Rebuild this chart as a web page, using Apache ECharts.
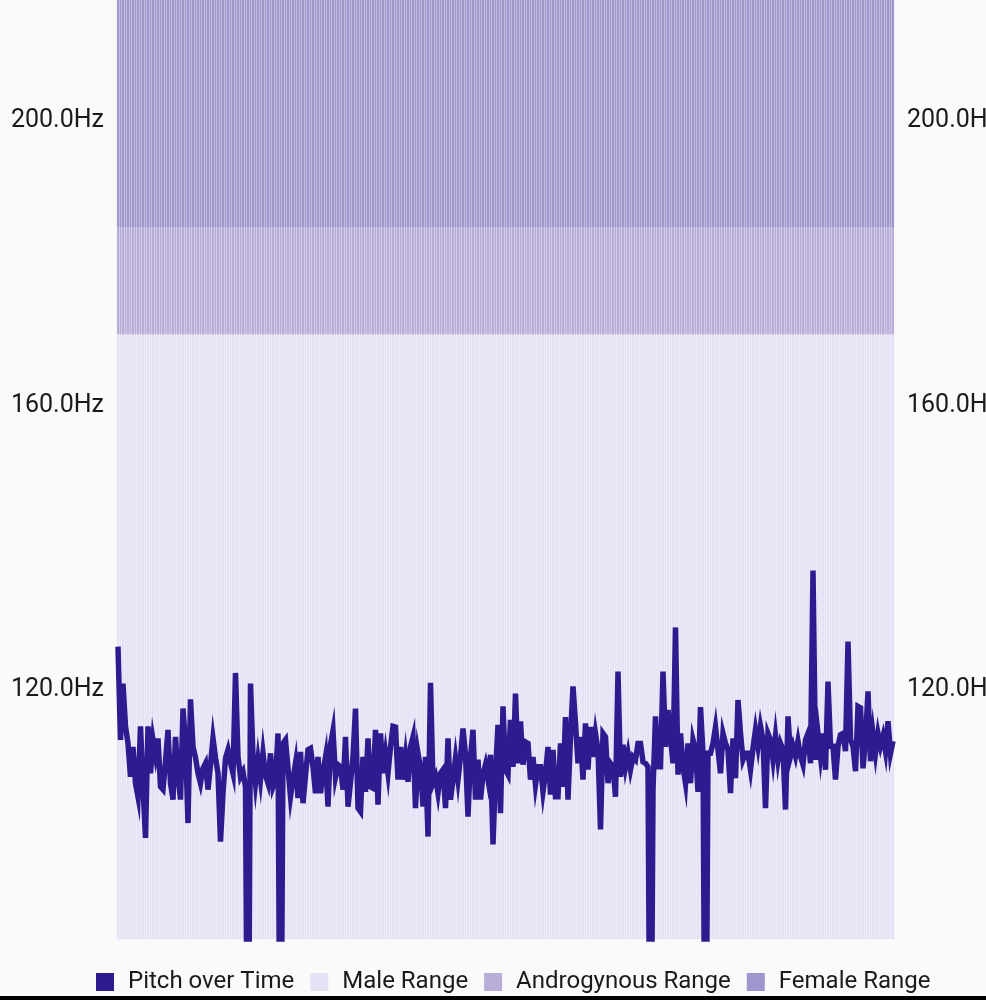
<!DOCTYPE html>
<html>
<head>
<meta charset="utf-8">
<title>Pitch over Time</title>
<script src="https://cdn.jsdelivr.net/npm/echarts@6/dist/echarts.min.js"></script>
<style>
  html, body { margin: 0; padding: 0; background: #fafafa; }
  #chart { width: 986px; height: 1000px; }
</style>
</head>
<body>
<div id="chart"></div>
<script>
// pitch samples in Hz (values below the axis are dropouts)
const pitch = [
  126.1, 113.0, 120.9, 114.9, 112.5, 107.8, 112.0, 106.9, 105.0, 114.9,
  106.4, 99.2, 114.9, 108.3, 113.0, 110.8, 113.2, 106.4, 106.0, 110.0,
  114.4, 106.9, 104.6, 113.4, 108.0, 104.6, 117.4, 112.5, 101.3, 118.7,
  112.0, 110.5, 108.3, 106.9, 109.0, 109.7, 106.0, 109.5, 113.2, 110.5,
  108.3, 98.7, 105.5, 110.4, 111.6, 109.8, 108.3, 122.4, 110.6, 107.8,
  108.5, 106.4, 50, 120.9, 110.6, 106.9, 110.2, 107.4, 111.1, 108.0,
  106.9, 111.1, 106.4, 107.4, 113.9, 50,
  112.5, 113.0, 109.0, 105.0, 107.5, 109.7, 104.8, 111.3, 104.1, 108.0,
  111.6, 111.8, 109.2, 105.5, 110.6, 105.5, 108.5, 110.6, 103.6, 112.3,
  114.3, 107.8, 109.5, 109.2, 106.0, 113.4, 103.6, 107.0, 110.6, 117.4,
  103.4, 102.9, 110.6, 105.7, 113.2, 106.4, 106.2, 114.4, 103.9, 113.9,
  108.3, 111.1, 108.3, 112.0, 114.9, 114.8, 107.4, 112.0, 107.4, 110.6,
  107.1, 112.0, 113.4, 103.4, 111.1, 109.0,
  103.6, 110.6, 99.4, 121.0, 106.9, 107.8, 105.5, 108.3, 108.8, 103.4,
  113.2, 104.6, 107.4, 110.4, 107.4, 110.6, 114.6, 110.9, 102.2, 110.6,
  114.4, 104.6, 110.2, 104.6, 108.1, 109.5, 107.4, 110.9, 98.3, 108.3,
  115.1, 102.7, 117.7, 108.8, 108.1, 115.8, 109.2, 119.5, 109.7, 115.6,
  109.5, 112.7, 112.5, 107.4, 110.6, 106.7, 109.2, 109.2, 105.7, 108.3,
  112.0, 105.3, 111.6, 105.0, 105.0, 112.5, 106.4, 116.2, 104.6, 113.4,
  120.5, 115.3,
  109.7, 113.4, 107.4, 115.3, 108.8, 114.8, 110.6, 113.9, 111.6, 100.4,
  113.9, 113.4, 106.9, 109.7, 109.2, 105.0, 122.6, 107.8, 112.3, 109.2,
  111.1, 108.8, 110.6, 110.2, 112.5, 112.5, 109.9, 109.7, 109.2, 50,
  106.0, 116.3, 109.2, 109.2, 122.6, 112.0, 117.2, 113.4, 109.7, 128.8,
  108.1, 113.9, 109.2, 106.9, 112.5, 106.9, 113.0, 111.6, 105.7, 117.6,
  111.1, 50, 111.1, 111.1, 112.5, 114.8, 111.6, 108.3, 113.9, 112.5,
  111.6, 105.5, 113.2,
  107.6, 118.6, 113.9, 110.2, 111.1, 111.1, 108.8, 111.8, 114.4, 112.1,
  114.9, 113.0, 103.4, 113.9, 113.0, 110.2, 113.5, 110.2, 112.5, 111.6,
  103.2, 116.3, 110.7, 112.1, 110.7, 112.8, 110.7, 109.5, 113.0, 113.9,
  109.7, 136.8, 110.2, 113.9, 110.7, 113.9, 108.8, 121.2, 112.1, 112.1,
  107.4, 112.1, 113.7, 113.9, 111.4, 126.8, 113.0, 112.1, 108.6, 117.7,
  117.5, 109.0, 113.0, 119.8, 110.0, 113.9, 111.1, 113.9, 112.1, 113.5,
  111.4, 115.6, 111.1, 112.8
];

// voice range boundaries (Hz)
const rangeNames = ['Male Range', 'Androgynous Range', 'Female Range'];
const rangeBounds = [170, 185, 217]; // upper edge of each band
const axisMin = 85;
const axisMax = 217;
const labelTicks = [120, 160, 200];

const samples = pitch.map((_, i) => i);

const lineColor = '#2f1a90';
const rangeColors = ['#e6e2f6', '#b9add9', '#9e96cc'];

const chart = echarts.init(document.getElementById('chart'));

const bandSeries = rangeNames.map((name, k) => {
  const lower = k === 0 ? 0 : rangeBounds[k - 1];
  const height = rangeBounds[k] - lower;
  return {
    name: name,
    type: 'bar',
    stack: 'ranges',
    data: samples.map(() => height),
    itemStyle: { color: rangeColors[k] },
    barCategoryGap: '14%',
    silent: true,
    animation: false,
    z: 1
  };
});

const yAxisBase = {
  type: 'value',
  min: axisMin,
  max: axisMax,
  interval: 1,
  splitLine: { show: false },
  axisTick: { show: false },
  axisLine: { show: true, lineStyle: { color: '#cac7dd', width: 1 } },
  axisLabel: {
    show: true,
    interval: 0,
    margin: 14,
    fontSize: 25,
    color: '#1a1a1a',
    fontFamily: 'Roboto',
    padding: [3, 0, 0, 0],
    formatter: v => (labelTicks.indexOf(v) >= 0 ? v.toFixed(1) + 'Hz' : '')
  }
};

chart.setOption({
  backgroundColor: '#fafafa',
  animation: false,
  grid: {
    left: 118, right: 93, top: 0, bottom: 61,
    containLabel: false,
    outerBoundsMode: 'none'
  },
  legend: {
    data: ['Pitch over Time'].concat(rangeNames),
    left: 96,
    bottom: 6,
    padding: 0,
    icon: 'rect',
    itemWidth: 18,
    itemHeight: 18,
    itemGap: 16,
    textStyle: {
      fontSize: 24,
      color: '#1a1a1a',
      fontFamily: 'Roboto',
      padding: [0, 0, 0, 9]
    }
  },
  xAxis: {
    type: 'category',
    data: samples,
    boundaryGap: false,
    show: false
  },
  yAxis: [
    Object.assign({ position: 'left' }, yAxisBase),
    Object.assign({ position: 'right' }, yAxisBase)
  ],
  series: bandSeries.concat([{
    name: 'Pitch over Time',
    type: 'line',
    data: pitch,
    showSymbol: false,
    symbol: 'none',
    lineStyle: { color: lineColor, width: 5.5, join: 'miter' },
    itemStyle: { color: lineColor },
    z: 5
  }]),
  graphic: [{
    type: 'rect',
    left: 0,
    top: 996,
    shape: { width: 986, height: 4 },
    style: { fill: '#000' }
  }]
});
</script>
</body>
</html>
